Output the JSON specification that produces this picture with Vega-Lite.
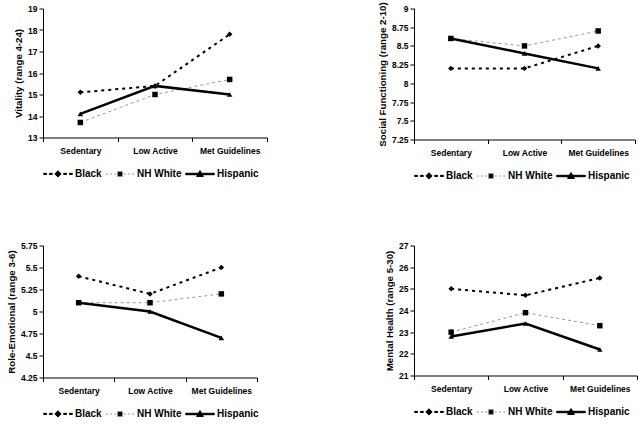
{
  "$schema": "https://vega.github.io/schema/vega-lite/v6.json",
  "padding": {"left": 6, "top": 1.5, "right": 0, "bottom": 0},
  "background": "white",
  "datasets": {
    "sf36": [
      {"measure": "Vitality", "activity": "Sedentary", "race": "Black", "value": 15.1},
      {"measure": "Vitality", "activity": "Low Active", "race": "Black", "value": 15.4},
      {"measure": "Vitality", "activity": "Met Guidelines", "race": "Black", "value": 17.8},
      {"measure": "Vitality", "activity": "Sedentary", "race": "NH White", "value": 13.7},
      {"measure": "Vitality", "activity": "Low Active", "race": "NH White", "value": 15.0},
      {"measure": "Vitality", "activity": "Met Guidelines", "race": "NH White", "value": 15.7},
      {"measure": "Vitality", "activity": "Sedentary", "race": "Hispanic", "value": 14.1},
      {"measure": "Vitality", "activity": "Low Active", "race": "Hispanic", "value": 15.4},
      {"measure": "Vitality", "activity": "Met Guidelines", "race": "Hispanic", "value": 15.0},
      {"measure": "Social", "activity": "Sedentary", "race": "Black", "value": 8.2},
      {"measure": "Social", "activity": "Low Active", "race": "Black", "value": 8.2},
      {"measure": "Social", "activity": "Met Guidelines", "race": "Black", "value": 8.5},
      {"measure": "Social", "activity": "Sedentary", "race": "NH White", "value": 8.6},
      {"measure": "Social", "activity": "Low Active", "race": "NH White", "value": 8.5},
      {"measure": "Social", "activity": "Met Guidelines", "race": "NH White", "value": 8.7},
      {"measure": "Social", "activity": "Sedentary", "race": "Hispanic", "value": 8.6},
      {"measure": "Social", "activity": "Low Active", "race": "Hispanic", "value": 8.4},
      {"measure": "Social", "activity": "Met Guidelines", "race": "Hispanic", "value": 8.2},
      {"measure": "Role", "activity": "Sedentary", "race": "Black", "value": 5.4},
      {"measure": "Role", "activity": "Low Active", "race": "Black", "value": 5.2},
      {"measure": "Role", "activity": "Met Guidelines", "race": "Black", "value": 5.5},
      {"measure": "Role", "activity": "Sedentary", "race": "NH White", "value": 5.1},
      {"measure": "Role", "activity": "Low Active", "race": "NH White", "value": 5.1},
      {"measure": "Role", "activity": "Met Guidelines", "race": "NH White", "value": 5.2},
      {"measure": "Role", "activity": "Sedentary", "race": "Hispanic", "value": 5.1},
      {"measure": "Role", "activity": "Low Active", "race": "Hispanic", "value": 5.0},
      {"measure": "Role", "activity": "Met Guidelines", "race": "Hispanic", "value": 4.7},
      {"measure": "Mental", "activity": "Sedentary", "race": "Black", "value": 25.0},
      {"measure": "Mental", "activity": "Low Active", "race": "Black", "value": 24.7},
      {"measure": "Mental", "activity": "Met Guidelines", "race": "Black", "value": 25.5},
      {"measure": "Mental", "activity": "Sedentary", "race": "NH White", "value": 23.0},
      {"measure": "Mental", "activity": "Low Active", "race": "NH White", "value": 23.9},
      {"measure": "Mental", "activity": "Met Guidelines", "race": "NH White", "value": 23.3},
      {"measure": "Mental", "activity": "Sedentary", "race": "Hispanic", "value": 22.8},
      {"measure": "Mental", "activity": "Low Active", "race": "Hispanic", "value": 23.4},
      {"measure": "Mental", "activity": "Met Guidelines", "race": "Hispanic", "value": 22.2}
    ]
  },
  "data": {"name": "sf36"},
  "config": {
    "view": {"stroke": null},
    "font": "Liberation Sans",
    "axis": {"grid": false, "domainColor": "black", "tickColor": "black", "tickSize": 4, "labelFontWeight": "bold", "labelFontSize": 8.5, "labelColor": "black", "titleFontWeight": "bold", "titleFontSize": 9.7, "titleColor": "black", "titlePadding": 4},
    "axisX": {"labelAngle": 0, "tickBand": "extent", "labelPadding": 5},
    "legend": {"orient": "bottom", "direction": "horizontal", "labelFontWeight": "bold", "labelFontSize": 10, "labelColor": "black", "symbolSize": 820, "symbolStrokeWidth": 1, "columnPadding": 1, "labelOffset": 2, "offset": 3, "padding": 0, "symbolOpacity": 1}
  },
  "columns": 2,
  "spacing": {"row": 60, "column": 109},
  "concat": [
    {
      "width": 224, "height": 129,
      "transform": [{"filter": "datum.measure === 'Vitality'"}],
      "encoding": {
        "x": {"field": "activity", "type": "nominal", "sort": ["Sedentary", "Low Active", "Met Guidelines"], "scale": {"type": "band", "paddingInner": 0, "paddingOuter": 0}, "axis": {"title": null}},
        "y": {"field": "value", "type": "quantitative", "scale": {"domain": [13, 19], "nice": false, "zero": false}, "axis": {"title": "Vitality (range 4-24)", "values": [13, 14, 15, 16, 17, 18, 19], "labelExpr": "datum.value"}}
      },
      "layer": [
        {"transform": [{"filter": "datum.race === 'Black'"}], "mark": {"type": "line", "color": "black", "strokeDash": [3, 4], "strokeWidth": 2}},
        {"transform": [{"filter": "datum.race === 'NH White'"}], "mark": {"type": "line", "color": "#9a9a9a", "strokeDash": [3, 3], "strokeWidth": 1}},
        {"transform": [{"filter": "datum.race === 'Hispanic'"}], "mark": {"type": "line", "color": "black", "strokeWidth": 2.5}},
        {"transform": [{"filter": "datum.race === 'Black'"}], "mark": {"type": "point", "shape": "diamond", "filled": true, "color": "black", "size": 30, "opacity": 1}},
        {"transform": [{"filter": "datum.race === 'NH White'"}], "mark": {"type": "point", "shape": "square", "filled": true, "color": "black", "size": 30, "opacity": 1}},
        {"transform": [{"filter": "datum.race === 'Hispanic'"}], "mark": {"type": "point", "shape": "triangle-up", "filled": true, "color": "black", "size": 30, "opacity": 1}},
        {"mark": {"type": "point", "filled": true, "color": "black", "opacity": 0}, "encoding": {
          "shape": {"field": "race", "type": "nominal", "scale": {"domain": ["Black", "NH White", "Hispanic"], "range": ["M-1,-0.04H-0.8V0.04H-1ZM-0.6,-0.04H-0.4V0.04H-0.6ZM0,-0.22L0.22,0L0,0.22L-0.22,0ZM0.4,-0.04H0.6V0.04H0.4ZM0.8,-0.04H1V0.04H0.8Z", "M-1,0H-0.85M-0.7,0H-0.55M-0.4,0H-0.25M-0.17,-0.17H0.17V0.17H-0.17ZM0.25,0H0.4M0.55,0H0.7M0.85,0H1", "M-1,-0.05H1V0.05H-1ZM0,-0.24L0.24,0.17H-0.24Z"]}, "legend": {"title": null}},
          "stroke": {"field": "race", "type": "nominal", "scale": {"domain": ["Black", "NH White", "Hispanic"], "range": ["#000000", "#9a9a9a", "#000000"]}, "legend": {"title": null}}}}
      ]
    },
    {
      "width": 221, "height": 131,
      "transform": [{"filter": "datum.measure === 'Social'"}],
      "encoding": {
        "x": {"field": "activity", "type": "nominal", "sort": ["Sedentary", "Low Active", "Met Guidelines"], "scale": {"type": "band", "paddingInner": 0, "paddingOuter": 0}, "axis": {"title": null}},
        "y": {"field": "value", "type": "quantitative", "scale": {"domain": [7.25, 9], "nice": false, "zero": false}, "axis": {"title": "Social Functioning (range 2-10)", "values": [7.25, 7.5, 7.75, 8, 8.25, 8.5, 8.75, 9], "labelExpr": "datum.value"}}
      },
      "layer": [
        {"transform": [{"filter": "datum.race === 'Black'"}], "mark": {"type": "line", "color": "black", "strokeDash": [3, 4], "strokeWidth": 2}},
        {"transform": [{"filter": "datum.race === 'NH White'"}], "mark": {"type": "line", "color": "#9a9a9a", "strokeDash": [3, 3], "strokeWidth": 1}},
        {"transform": [{"filter": "datum.race === 'Hispanic'"}], "mark": {"type": "line", "color": "black", "strokeWidth": 2.5}},
        {"transform": [{"filter": "datum.race === 'Black'"}], "mark": {"type": "point", "shape": "diamond", "filled": true, "color": "black", "size": 30, "opacity": 1}},
        {"transform": [{"filter": "datum.race === 'NH White'"}], "mark": {"type": "point", "shape": "square", "filled": true, "color": "black", "size": 30, "opacity": 1}},
        {"transform": [{"filter": "datum.race === 'Hispanic'"}], "mark": {"type": "point", "shape": "triangle-up", "filled": true, "color": "black", "size": 30, "opacity": 1}},
        {"mark": {"type": "point", "filled": true, "color": "black", "opacity": 0}, "encoding": {
          "shape": {"field": "race", "type": "nominal", "scale": {"domain": ["Black", "NH White", "Hispanic"], "range": ["M-1,-0.04H-0.8V0.04H-1ZM-0.6,-0.04H-0.4V0.04H-0.6ZM0,-0.22L0.22,0L0,0.22L-0.22,0ZM0.4,-0.04H0.6V0.04H0.4ZM0.8,-0.04H1V0.04H0.8Z", "M-1,0H-0.85M-0.7,0H-0.55M-0.4,0H-0.25M-0.17,-0.17H0.17V0.17H-0.17ZM0.25,0H0.4M0.55,0H0.7M0.85,0H1", "M-1,-0.05H1V0.05H-1ZM0,-0.24L0.24,0.17H-0.24Z"]}, "legend": {"title": null}},
          "stroke": {"field": "race", "type": "nominal", "scale": {"domain": ["Black", "NH White", "Hispanic"], "range": ["#000000", "#9a9a9a", "#000000"]}, "legend": {"title": null}}}}
      ]
    },
    {
      "width": 214, "height": 132,
      "transform": [{"filter": "datum.measure === 'Role'"}],
      "encoding": {
        "x": {"field": "activity", "type": "nominal", "sort": ["Sedentary", "Low Active", "Met Guidelines"], "scale": {"type": "band", "paddingInner": 0, "paddingOuter": 0}, "axis": {"title": null}},
        "y": {"field": "value", "type": "quantitative", "scale": {"domain": [4.25, 5.75], "nice": false, "zero": false}, "axis": {"title": "Role-Emotional (range 3-6)", "values": [4.25, 4.5, 4.75, 5, 5.25, 5.5, 5.75], "labelExpr": "datum.value"}}
      },
      "layer": [
        {"transform": [{"filter": "datum.race === 'Black'"}], "mark": {"type": "line", "color": "black", "strokeDash": [3, 4], "strokeWidth": 2}},
        {"transform": [{"filter": "datum.race === 'NH White'"}], "mark": {"type": "line", "color": "#9a9a9a", "strokeDash": [3, 3], "strokeWidth": 1}},
        {"transform": [{"filter": "datum.race === 'Hispanic'"}], "mark": {"type": "line", "color": "black", "strokeWidth": 2.5}},
        {"transform": [{"filter": "datum.race === 'Black'"}], "mark": {"type": "point", "shape": "diamond", "filled": true, "color": "black", "size": 30, "opacity": 1}},
        {"transform": [{"filter": "datum.race === 'NH White'"}], "mark": {"type": "point", "shape": "square", "filled": true, "color": "black", "size": 30, "opacity": 1}},
        {"transform": [{"filter": "datum.race === 'Hispanic'"}], "mark": {"type": "point", "shape": "triangle-up", "filled": true, "color": "black", "size": 30, "opacity": 1}},
        {"mark": {"type": "point", "filled": true, "color": "black", "opacity": 0}, "encoding": {
          "shape": {"field": "race", "type": "nominal", "scale": {"domain": ["Black", "NH White", "Hispanic"], "range": ["M-1,-0.04H-0.8V0.04H-1ZM-0.6,-0.04H-0.4V0.04H-0.6ZM0,-0.22L0.22,0L0,0.22L-0.22,0ZM0.4,-0.04H0.6V0.04H0.4ZM0.8,-0.04H1V0.04H0.8Z", "M-1,0H-0.85M-0.7,0H-0.55M-0.4,0H-0.25M-0.17,-0.17H0.17V0.17H-0.17ZM0.25,0H0.4M0.55,0H0.7M0.85,0H1", "M-1,-0.05H1V0.05H-1ZM0,-0.24L0.24,0.17H-0.24Z"]}, "legend": {"title": null}},
          "stroke": {"field": "race", "type": "nominal", "scale": {"domain": ["Black", "NH White", "Hispanic"], "range": ["#000000", "#9a9a9a", "#000000"]}, "legend": {"title": null}}}}
      ]
    },
    {
      "width": 223, "height": 130,
      "transform": [{"filter": "datum.measure === 'Mental'"}],
      "encoding": {
        "x": {"field": "activity", "type": "nominal", "sort": ["Sedentary", "Low Active", "Met Guidelines"], "scale": {"type": "band", "paddingInner": 0, "paddingOuter": 0}, "axis": {"title": null}},
        "y": {"field": "value", "type": "quantitative", "scale": {"domain": [21, 27], "nice": false, "zero": false}, "axis": {"title": "Mental Health (range 5-30)", "values": [21, 22, 23, 24, 25, 26, 27], "labelExpr": "datum.value"}}
      },
      "layer": [
        {"transform": [{"filter": "datum.race === 'Black'"}], "mark": {"type": "line", "color": "black", "strokeDash": [3, 4], "strokeWidth": 2}},
        {"transform": [{"filter": "datum.race === 'NH White'"}], "mark": {"type": "line", "color": "#9a9a9a", "strokeDash": [3, 3], "strokeWidth": 1}},
        {"transform": [{"filter": "datum.race === 'Hispanic'"}], "mark": {"type": "line", "color": "black", "strokeWidth": 2.5}},
        {"transform": [{"filter": "datum.race === 'Black'"}], "mark": {"type": "point", "shape": "diamond", "filled": true, "color": "black", "size": 30, "opacity": 1}},
        {"transform": [{"filter": "datum.race === 'NH White'"}], "mark": {"type": "point", "shape": "square", "filled": true, "color": "black", "size": 30, "opacity": 1}},
        {"transform": [{"filter": "datum.race === 'Hispanic'"}], "mark": {"type": "point", "shape": "triangle-up", "filled": true, "color": "black", "size": 30, "opacity": 1}},
        {"mark": {"type": "point", "filled": true, "color": "black", "opacity": 0}, "encoding": {
          "shape": {"field": "race", "type": "nominal", "scale": {"domain": ["Black", "NH White", "Hispanic"], "range": ["M-1,-0.04H-0.8V0.04H-1ZM-0.6,-0.04H-0.4V0.04H-0.6ZM0,-0.22L0.22,0L0,0.22L-0.22,0ZM0.4,-0.04H0.6V0.04H0.4ZM0.8,-0.04H1V0.04H0.8Z", "M-1,0H-0.85M-0.7,0H-0.55M-0.4,0H-0.25M-0.17,-0.17H0.17V0.17H-0.17ZM0.25,0H0.4M0.55,0H0.7M0.85,0H1", "M-1,-0.05H1V0.05H-1ZM0,-0.24L0.24,0.17H-0.24Z"]}, "legend": {"title": null}},
          "stroke": {"field": "race", "type": "nominal", "scale": {"domain": ["Black", "NH White", "Hispanic"], "range": ["#000000", "#9a9a9a", "#000000"]}, "legend": {"title": null}}}}
      ]
    }
  ],
  "resolve": {"scale": {"shape": "independent", "stroke": "independent"}, "legend": {"shape": "independent", "stroke": "independent"}}
}
